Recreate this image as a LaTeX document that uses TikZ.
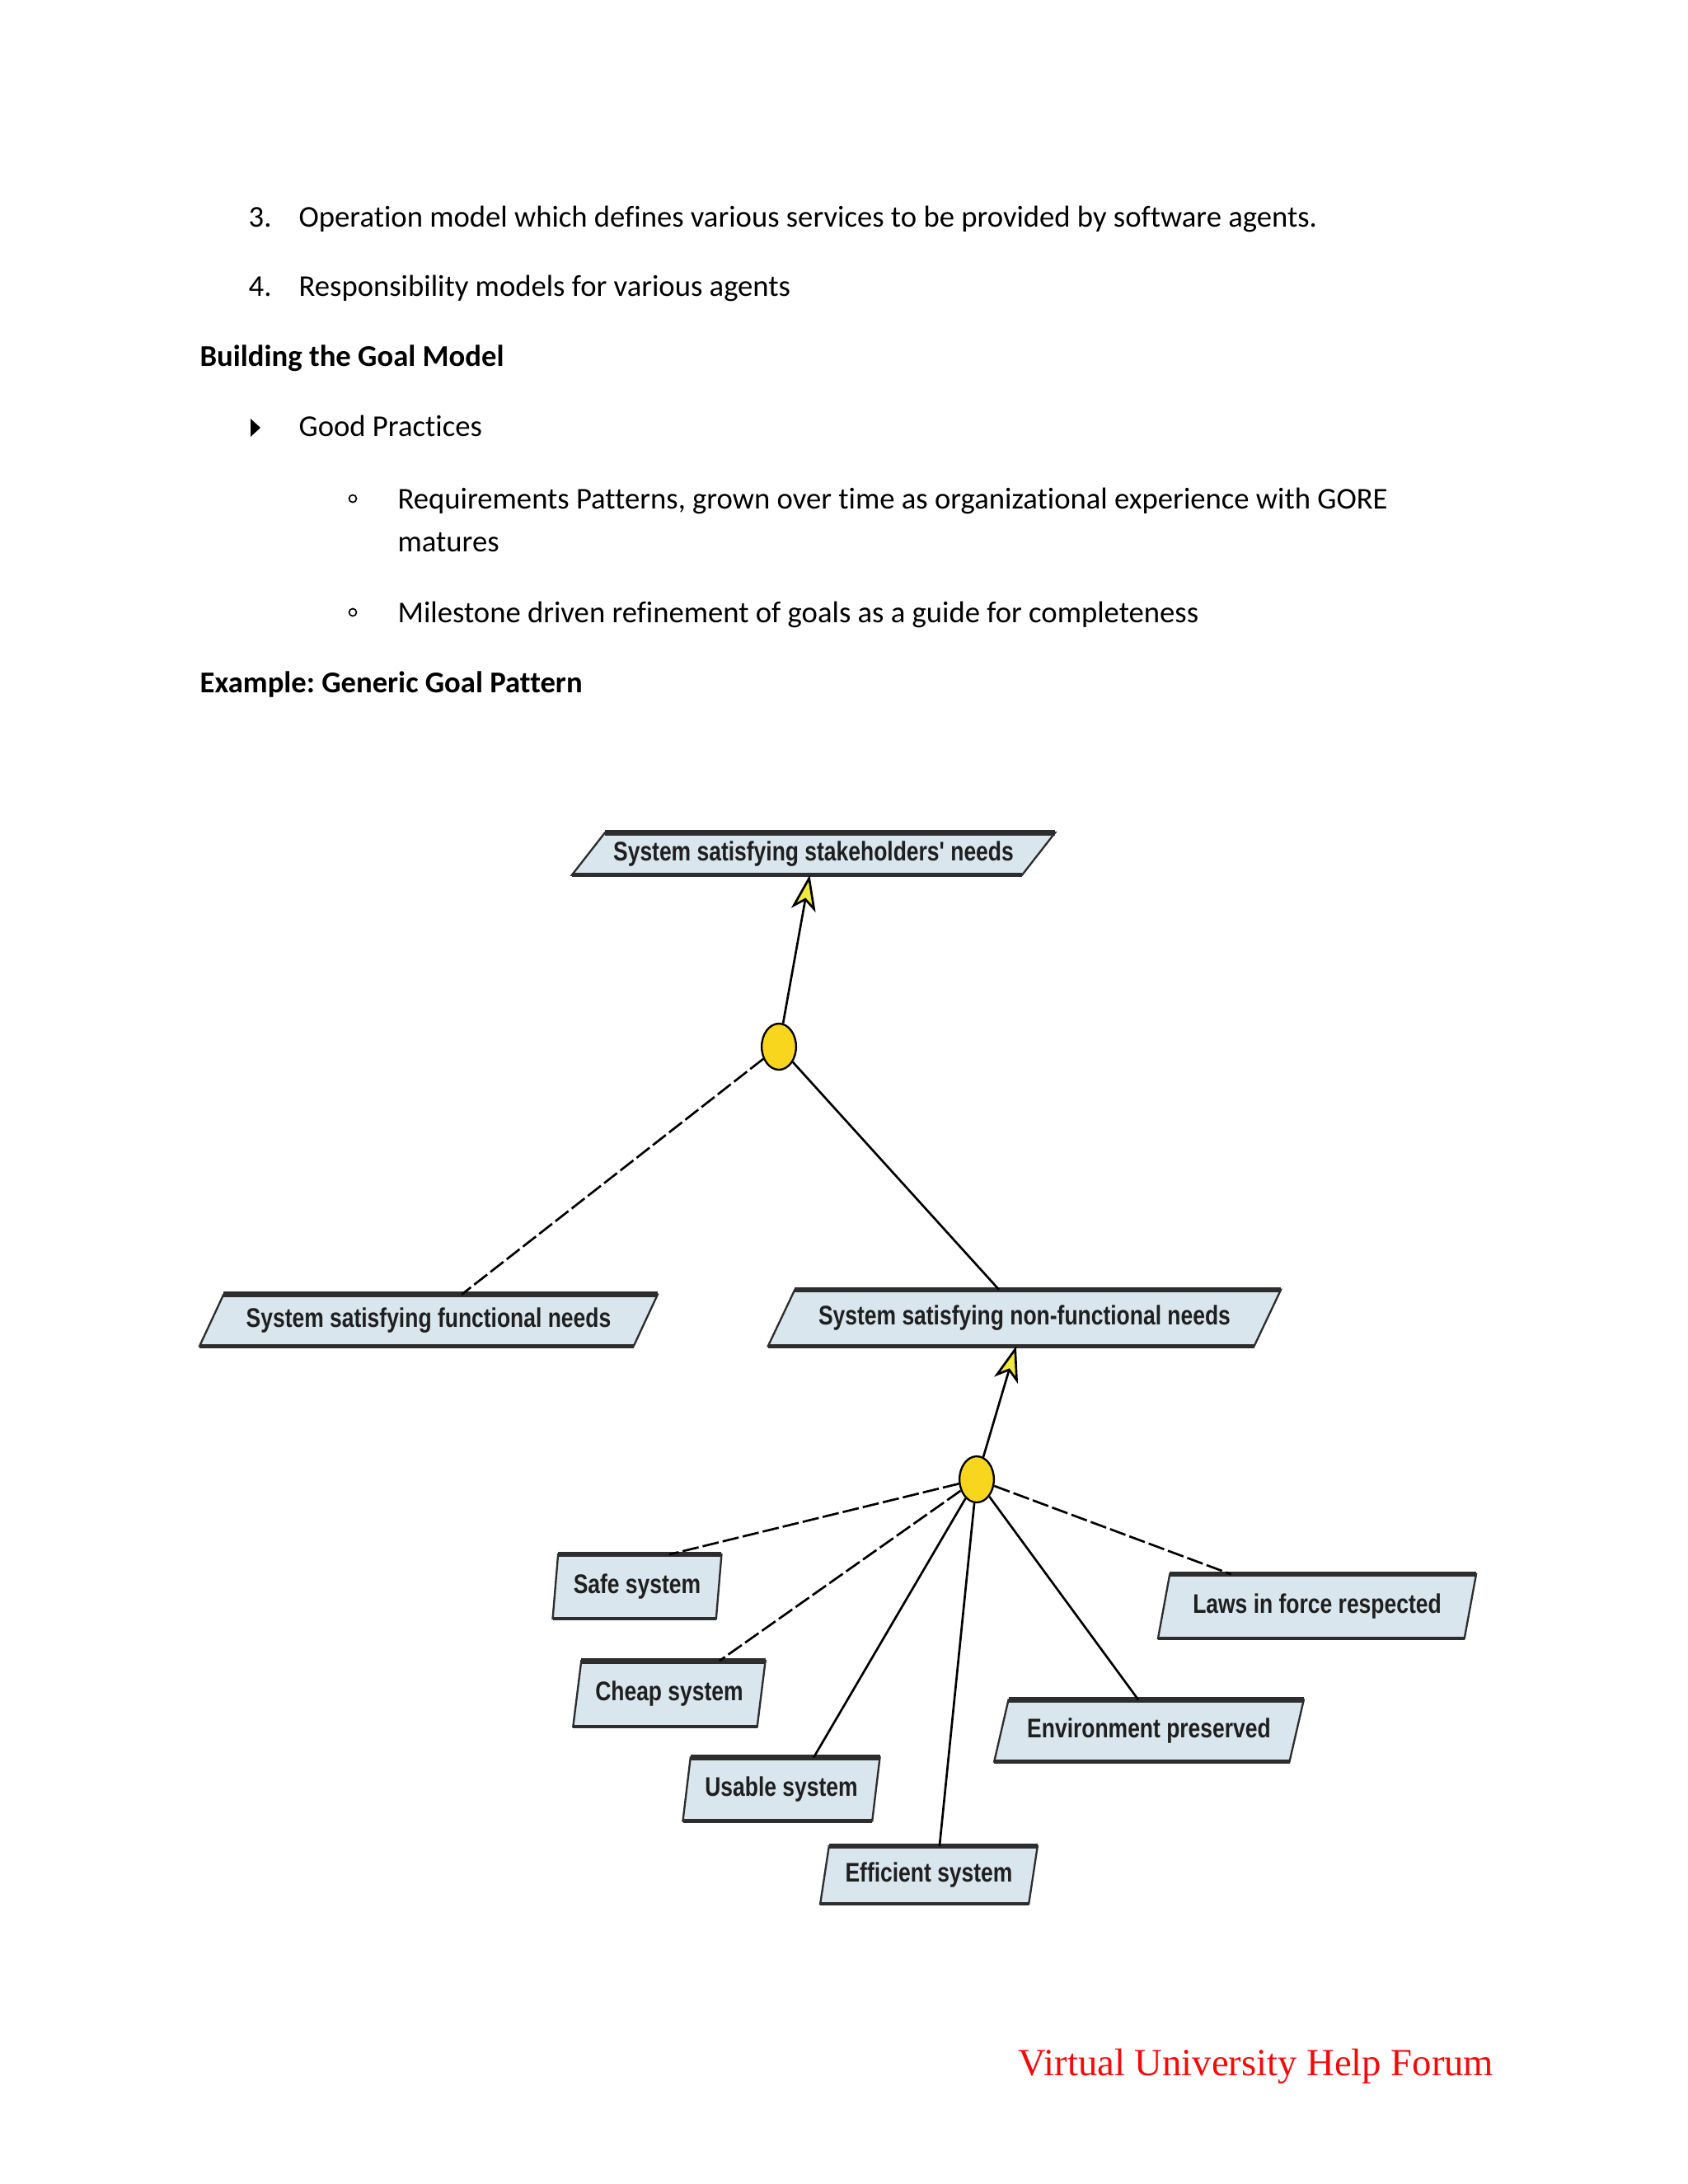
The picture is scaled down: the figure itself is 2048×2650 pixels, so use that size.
\documentclass[tikz,border=0pt]{standalone}
\usepackage{fontspec}
\setmainfont{Carlito}[Ligatures={NoCommon}]
\newfontfamily\goalfont[FakeStretch=0.81]{Liberation Sans}
\newfontfamily\forumfont{Liberation Serif}
\usepackage{tikz}
\usetikzlibrary{shapes.geometric, arrows.meta, calc}

\definecolor{goalfill}{RGB}{217,230,237}
\definecolor{goalline}{RGB}{45,45,45}
\definecolor{andyellow}{RGB}{248,214,30}
\definecolor{tipyellow}{RGB}{242,232,60}
\definecolor{forumred}{RGB}{245,10,10}
\frenchspacing

\begin{document}
\begin{tikzpicture}[x=0.010542cm, y=-0.010542cm,
    para/.style={anchor=base west, inner sep=0pt, font=\fontsize{11}{13}\selectfont},
    head/.style={para, font=\fontsize{11}{13}\selectfont\bfseries},
    goal/.style={trapezium, trapezium left angle=#1, trapezium right angle={180-#1}, trapezium stretches body=true,
        draw=goalline, line width=0.7pt, fill=goalfill, inner xsep=1pt, inner ysep=1pt, outer sep=0pt,
        font=\goalfont\bfseries\fontsize{9.8}{10}\selectfont, text=black!88,
        append after command={(\tikzlastnode.top left corner) edge[band, line width=2pt] (\tikzlastnode.top right corner)
            (\tikzlastnode.bottom left corner) edge[band] (\tikzlastnode.bottom right corner)}},
    band/.style={draw=goalline, line width=1.4pt},
    andnode/.style={ellipse, draw, fill=andyellow, line width=0.7pt, inner sep=0pt, minimum width=0.44cm, minimum height=0.59cm},
    refine/.style={draw, line width=0.8pt},
    dashref/.style={refine, dash pattern=on 6pt off 1.5pt},
    support/.style={draw, line width=0.8pt, -{Stealth[length=13pt, width=9pt, inset=3.5pt, fill=tipyellow]}}]

    \useasboundingbox (0,0) rectangle (2048,2650);

    \node [para] (num3) at (301,275) {3.};
    \node [para] (item3) at (362,275) {Operation model which defines various services to be provided by software agents.};
    \node [para] (num4) at (301,359) {4.};
    \node [para] (item4) at (362,359) {Responsibility models for various agents};
    \node [head] (heading) at (242,444) {Building the Goal Model};
    \fill (304,508) -- (316,519) -- (304,530) -- cycle;
    \node [para] (practices) at (362,529) {Good Practices};
    \draw [line width=0.5pt] (428,605) circle [radius=4.5];
    \node [para] (pattern) at (482,617) {Requirements Patterns, grown over time as organizational experience with GORE};
    \node [para] (matures) at (482,669) {matures};
    \draw [line width=0.5pt] (428,743) circle [radius=4.5];
    \node [para] (milestone) at (482,755) {Milestone driven refinement of goals as a guide for completeness};
    \node [head] (example) at (242,840) {Example: Generic Goal Pattern};

    \node [goal=43, minimum width=6.18cm, minimum height=0.54cm] (stake) at (987,1036) {System satisfying stakeholders' needs};
    \node [goal=52, minimum width=5.86cm, minimum height=0.66cm] (func) at (520,1602) {System satisfying functional needs};
    \node [goal=49, minimum width=6.56cm, minimum height=0.72cm] (nonfunc) at (1243,1599) {System satisfying non-functional needs};
    \node [goal=80, minimum width=2.16cm, minimum height=0.82cm] (safe) at (773,1925) {Safe system};
    \node [goal=75, minimum width=2.46cm, minimum height=0.84cm] (cheap) at (812,2055) {Cheap system};
    \node [goal=76, minimum width=2.52cm, minimum height=0.81cm] (usable) at (948,2171) {Usable system};
    \node [goal=74, minimum width=2.78cm, minimum height=0.74cm] (efficient) at (1127,2275) {Efficient system};
    \node [goal=65, minimum width=3.96cm, minimum height=0.79cm] (environment) at (1394,2100) {Environment preserved};
    \node [goal=69, minimum width=4.07cm, minimum height=0.82cm] (laws) at (1598,1949) {Laws in force respected};

    \node [andnode] (and1) at (945,1270) {};
    \node [andnode] (and2) at (1185,1795) {};

    \draw [support] (and1) -- (stake);
    \draw [dashref] (and1) -- (func);
    \draw [refine] (and1) -- (nonfunc);
    \draw [support] (and2) -- (nonfunc);
    \draw [dashref] (and2) -- ($(safe.top left corner)!0.68!(safe.top right corner)$);
    \draw [dashref] (and2) -- ($(cheap.top left corner)!0.75!(cheap.top right corner)$);
    \draw [refine] (and2) -- ($(usable.top left corner)!0.65!(usable.top right corner)$);
    \draw [refine] (and2) -- ($(efficient.top left corner)!0.53!(efficient.top right corner)$);
    \draw [refine] (and2) -- ($(environment.top left corner)!0.44!(environment.top right corner)$);
    \draw [dashref] (and2) -- ($(laws.top left corner)!0.2!(laws.top right corner)$);

    \node [anchor=base west, inner sep=0pt, font=\forumfont\fontsize{14}{16}\selectfont, text=forumred] (forum) at (1235,2518) {Virtual University Help Forum};
\end{tikzpicture}
\end{document}
